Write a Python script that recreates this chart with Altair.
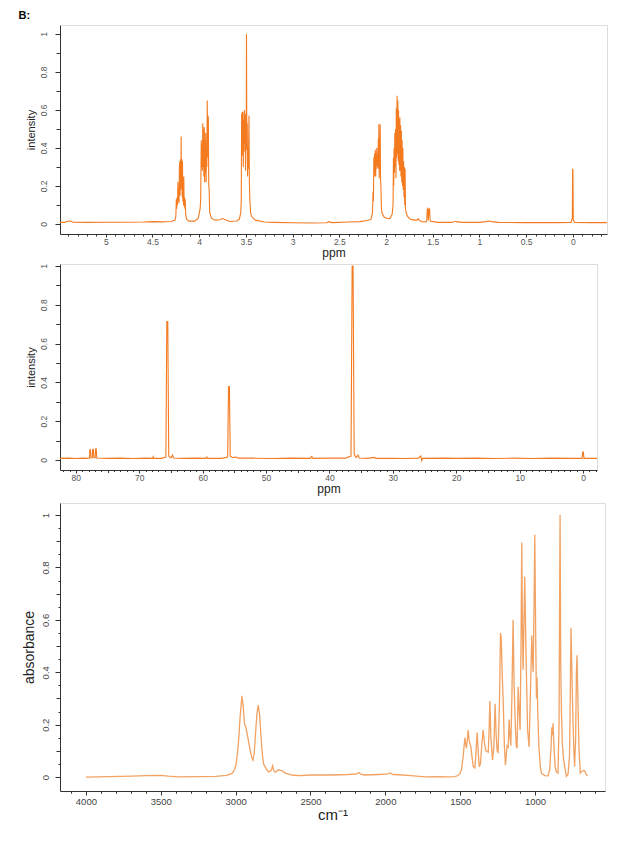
import altair as alt
import pandas as pd

# ---------------- 1H NMR (ppm, intensity) ----------------
h_ppm = [5.50, 5.44, 5.41, 5.38, 5.35, 5.20, 5.00, 4.80, 4.60, 4.50, 4.40, 4.30, 4.26,
         4.250, 4.245, 4.240, 4.236, 4.232, 4.228, 4.224, 4.220, 4.216, 4.212, 4.208, 4.204, 4.200,
         4.196, 4.193, 4.190, 4.186, 4.182, 4.179, 4.175, 4.171, 4.168, 4.165, 4.161, 4.157, 4.153,
         4.150, 4.145, 4.136, 4.11, 4.05,
         4.01, 3.99, 3.984, 3.978, 3.974, 3.970, 3.966, 3.962, 3.958, 3.954, 3.950, 3.946, 3.942,
         3.938, 3.934, 3.930, 3.926, 3.922, 3.918, 3.914, 3.910, 3.906, 3.902, 3.898, 3.894, 3.888,
         3.87, 3.83, 3.78, 3.75, 3.72, 3.67, 3.60, 3.57,
         3.555, 3.550, 3.546, 3.542, 3.539, 3.536, 3.532, 3.528, 3.524, 3.520, 3.516, 3.512, 3.508,
         3.504, 3.500, 3.496, 3.494, 3.490, 3.486, 3.482, 3.478, 3.474, 3.470, 3.467, 3.463, 3.458,
         3.45, 3.44, 3.40, 3.30, 3.20, 3.00, 2.80, 2.64, 2.61, 2.58, 2.40, 2.28, 2.20, 2.16,
         2.145, 2.139, 2.135, 2.131, 2.127, 2.123, 2.119, 2.115, 2.111, 2.107, 2.103, 2.099, 2.095,
         2.091, 2.087, 2.083, 2.079, 2.077, 2.073, 2.069, 2.066, 2.063, 2.059, 2.055, 2.050, 2.045,
         2.02, 1.99, 1.96, 1.935,
         1.925, 1.921, 1.918, 1.914, 1.910, 1.906, 1.902, 1.898, 1.894, 1.890, 1.886, 1.882, 1.878,
         1.874, 1.870, 1.866, 1.862, 1.858, 1.855, 1.852, 1.848, 1.844, 1.840, 1.836, 1.832, 1.828,
         1.824, 1.820, 1.816, 1.812, 1.808, 1.804, 1.800, 1.796, 1.792, 1.785, 1.77, 1.74, 1.70,
         1.67, 1.656, 1.645, 1.60, 1.565, 1.558, 1.552, 1.548, 1.540, 1.534, 1.528, 1.45, 1.30,
         1.25, 1.235, 1.22, 1.20, 1.00, 0.93, 0.90, 0.87, 0.80, 0.50, 0.20, 0.02, 0.006, 0.003,
         0.0, -0.004, -0.02, -0.20, -0.37]
h_int = [0.008, 0.008, 0.014, 0.015, 0.009, 0.008, 0.009, 0.009, 0.010, 0.012, 0.011, 0.013, 0.02,
         0.04, 0.13, 0.08, 0.14, 0.10, 0.22, 0.12, 0.19, 0.11, 0.30, 0.33, 0.15, 0.34,
         0.18, 0.46, 0.20, 0.34, 0.14, 0.33, 0.12, 0.22, 0.10, 0.25, 0.09, 0.14, 0.08,
         0.13, 0.05, 0.025, 0.015, 0.015,
         0.03, 0.08, 0.13, 0.44, 0.30, 0.42, 0.28, 0.53, 0.30, 0.50, 0.25, 0.51, 0.22,
         0.44, 0.27, 0.48, 0.22, 0.40, 0.30, 0.65, 0.35, 0.57, 0.55, 0.20, 0.19, 0.06,
         0.03, 0.02, 0.022, 0.028, 0.022, 0.013, 0.015, 0.025,
         0.06, 0.12, 0.58, 0.40, 0.59, 0.36, 0.59, 0.30, 0.55, 0.38, 0.60, 0.42, 0.58,
         0.28, 0.50, 0.45, 1.00, 0.39, 0.53, 0.25, 0.40, 0.29, 0.45, 0.57, 0.22, 0.13,
         0.06, 0.04, 0.02, 0.01, 0.008, 0.006, 0.005, 0.006, 0.012, 0.007, 0.01, 0.012, 0.018, 0.025,
         0.06, 0.17, 0.12, 0.35, 0.27, 0.37, 0.25, 0.39, 0.25, 0.37, 0.31, 0.40, 0.29,
         0.36, 0.30, 0.45, 0.29, 0.525, 0.24, 0.45, 0.30, 0.525, 0.24, 0.20, 0.09, 0.06,
         0.035, 0.03, 0.028, 0.05,
         0.10, 0.35, 0.20, 0.40, 0.27, 0.48, 0.30, 0.50, 0.24, 0.61, 0.35, 0.675, 0.37,
         0.65, 0.33, 0.60, 0.31, 0.55, 0.28, 0.56, 0.28, 0.52, 0.25, 0.49, 0.22, 0.44,
         0.20, 0.40, 0.18, 0.33, 0.14, 0.30, 0.10, 0.29, 0.08, 0.06, 0.04, 0.025, 0.02,
         0.02, 0.028, 0.018, 0.01, 0.012, 0.08, 0.075, 0.02, 0.08, 0.078, 0.015, 0.008, 0.008,
         0.014, 0.008, 0.013, 0.008, 0.008, 0.012, 0.015, 0.012, 0.008, 0.007, 0.007, 0.008, 0.03, 0.288,
         0.288, 0.02, 0.008, 0.007, 0.007]

# ---------------- 13C NMR (ppm, intensity) ----------------
c_ppm = [82.5, 81, 80, 79, 78.2, 77.85, 77.8, 77.7, 77.6, 77.4, 77.35, 77.25, 77.15, 76.95, 76.88,
         76.78, 76.7, 75, 73, 71, 69, 67.9, 67.8, 67.7, 66.5, 65.8, 65.65, 65.5, 65.35, 65.0, 64.75,
         64.6, 63, 61, 59.5, 59.35, 59.2, 57, 56.05, 55.92, 55.78, 55.65, 55.3, 54.7, 54.4, 52, 49,
         46, 43.0, 42.8, 42.6, 40, 37.5, 36.6, 36.42, 36.28, 36.1, 35.8, 35.5, 35.3, 34, 32.9, 32.7,
         30, 28, 26, 25.6, 25.45, 25.3, 22, 20, 17, 14, 11, 8, 5, 2, 0.15, 0.05, -0.05, -0.15, -2.2]
c_int = [0.008, 0.009, 0.007, 0.009, 0.008, 0.01, 0.052, 0.052, 0.01, 0.012, 0.055, 0.055, 0.012, 0.012, 0.057,
         0.057, 0.01, 0.008, 0.009, 0.007, 0.009, 0.008, 0.017, 0.008, 0.008, 0.015, 0.713, 0.713, 0.02, 0.01, 0.025,
         0.01, 0.008, 0.009, 0.008, 0.015, 0.008, 0.008, 0.015, 0.378, 0.378, 0.02, 0.012, 0.015, 0.009, 0.009, 0.007,
         0.009, 0.008, 0.018, 0.008, 0.009, 0.009, 0.02, 1.0, 1.0, 0.03, 0.012, 0.025, 0.01, 0.008, 0.013, 0.008,
         0.008, 0.007, 0.009, 0.02, -0.004, 0.008, 0.009, 0.008, 0.009, 0.007, 0.009, 0.007, 0.009, 0.008, 0.008, 0.04, 0.04, 0.008, 0.008]

# ---------------- IR (wavenumber, absorbance) ----------------
ir_wn = [4000, 3850, 3690, 3600, 3500, 3450, 3380, 3250, 3135, 3060, 3024, 3010, 2998, 2988, 2980, 2970,
         2958, 2948, 2940, 2931, 2918, 2902, 2892, 2884, 2876, 2869, 2858, 2849, 2840, 2831, 2822, 2813,
         2795, 2780, 2762, 2753, 2745, 2735, 2722, 2713, 2700, 2691, 2680, 2669, 2624, 2580, 2490, 2358,
         2250, 2190, 2176, 2160, 2136, 2050, 1990, 1969, 1950, 1913, 1830, 1735, 1650, 1580, 1536, 1515,
         1502, 1491, 1480, 1469, 1462, 1458, 1447, 1441, 1436, 1430, 1424, 1413, 1402, 1395, 1387, 1380,
         1373, 1365, 1355, 1347, 1338, 1329, 1313, 1307, 1302, 1295, 1284, 1275, 1267, 1260, 1253, 1247,
         1238, 1231, 1226, 1220, 1213, 1205, 1198, 1190, 1187, 1180, 1173, 1167, 1162, 1155, 1147, 1140,
         1132, 1126, 1120, 1113, 1106, 1100, 1094, 1089, 1084, 1080, 1074, 1069, 1063, 1058, 1050, 1040,
         1032, 1022, 1017, 1013, 1007, 1002, 996, 991, 987, 982, 975, 965, 958, 935, 913, 902, 893, 888,
         884, 880, 875, 866, 858, 847, 840, 835, 833, 830, 829, 824, 818, 810, 802, 791, 780, 770, 765,
         760, 754, 747, 741, 736, 729, 724, 720, 714, 707, 698, 690, 680, 669, 660, 651]
ir_abs = [0.0, 0.002, 0.004, 0.006, 0.007, 0.004, 0.001, 0.002, 0.003, 0.007, 0.014, 0.025, 0.045, 0.09, 0.14, 0.23,
          0.31, 0.26, 0.20, 0.19, 0.15, 0.10, 0.075, 0.065, 0.09, 0.15, 0.24, 0.275, 0.24, 0.16, 0.09, 0.05,
          0.03, 0.02, 0.025, 0.043, 0.025, 0.018, 0.025, 0.028, 0.025, 0.025, 0.02, 0.015, 0.008, 0.006, 0.008, 0.008,
          0.01, 0.012, 0.017, 0.01, 0.008, 0.01, 0.011, 0.016, 0.01, 0.009, 0.006, 0.001, 0.002, 0.001, 0.002, 0.006,
          0.013, 0.03, 0.08, 0.15, 0.12, 0.11, 0.18, 0.14, 0.13, 0.12, 0.09, 0.04, 0.035, 0.09, 0.17, 0.10,
          0.04, 0.05, 0.13, 0.18, 0.13, 0.10, 0.095, 0.18, 0.29, 0.15, 0.065, 0.12, 0.28, 0.16, 0.10, 0.095,
          0.28, 0.55, 0.53, 0.40, 0.29, 0.12, 0.045, 0.10, 0.12, 0.115, 0.22, 0.15, 0.12, 0.30, 0.60, 0.35,
          0.20, 0.12, 0.11, 0.345, 0.25, 0.18, 0.50, 0.895, 0.55, 0.41, 0.60, 0.765, 0.55, 0.40, 0.18, 0.115,
          0.30, 0.54, 0.45, 0.40, 0.65, 0.925, 0.55, 0.30, 0.38, 0.25, 0.12, 0.04, 0.015, 0.006, 0.005, 0.03, 0.12, 0.19,
          0.16, 0.205, 0.13, 0.04, 0.02, 0.015, 0.2, 0.8, 1.0, 0.6, 0.45, 0.25, 0.13, 0.07, 0.04, 0.003, 0.01, 0.08, 0.3,
          0.57, 0.40, 0.22, 0.10, 0.04, 0.15, 0.40, 0.465, 0.30, 0.11, 0.015, 0.02, 0.025, 0.025, 0.012, 0.004]

# ---------------- tick values ----------------
h_x_major = [5, 4.5, 4, 3.5, 3, 2.5, 2, 1.5, 1, 0.5, 0]
h_x_minor = [round(-0.3 + 0.1 * i, 1) for i in range(58)]
c_x_major = [80, 70, 60, 50, 40, 30, 20, 10, 0]
c_x_mid = [75, 65, 55, 45, 35, 25, 15, 5]
c_x_minor = list(range(-2, 83))
ir_x_major = [4000, 3500, 3000, 2500, 2000, 1500, 1000]
ir_x_minor = list(range(600, 4200, 100))
y_major = [0, 0.2, 0.4, 0.6, 0.8, 1]
y_minor = [round(0.1 * i, 1) for i in range(11)]
y_minor_ir = [round(0.05 * i, 2) for i in range(21)]

FONT = "Liberation Sans"
NMR_COLOR = "#f47a20"
IR_COLOR = "#f2a262"


def panel(xs, ys, xdom, ydom, w, h, color, sw, xtitle, ytitle,
          x_groups, y_groups, lab_size, ytitle_size, xtitle_size, lab_color,
          ylab_pad, ytitle_pad, xlab_pad, xtitle_pad):
    df = pd.DataFrame({"x": xs, "y": ys, "i": list(range(len(xs)))})
    n = max(len(x_groups), len(y_groups))
    layers = []
    for k in range(n):
        xg = x_groups[k] if k < len(x_groups) else x_groups[-1]
        yg = y_groups[k] if k < len(y_groups) else y_groups[-1]
        major = k == 0
        xaxis = alt.Axis(
            orient="bottom", values=xg[0], tickSize=xg[1], labels=major,
            domain=major, grid=False, labelExpr="datum.value + ''",
            title=xtitle if major else None,
            tickColor="#333", domainColor="#333", tickWidth=1,
            labelColor=lab_color, labelFont=FONT, labelFontSize=lab_size,
            labelPadding=xlab_pad, labelFlush=False, labelOverlap=False,
            titleFont=FONT, titleFontSize=xtitle_size, titleFontWeight="normal",
            titleColor="#222", titlePadding=xtitle_pad,
        )
        yaxis = alt.Axis(
            orient="left", values=yg[0], tickSize=yg[1], labels=major,
            domain=major, grid=False, labelExpr="datum.value + ''",
            title=ytitle if major else None,
            tickColor="#333", domainColor="#333", tickWidth=1,
            labelColor=lab_color, labelFont=FONT, labelFontSize=lab_size,
            labelAngle=270, labelAlign="center", labelBaseline="bottom",
            labelPadding=ylab_pad, labelFlush=False, labelOverlap=False,
            titleFont=FONT, titleFontSize=ytitle_size, titleFontWeight="normal",
            titleColor="#222", titlePadding=ytitle_pad,
        )
        layer = alt.Chart(df).mark_line(
            color=color, strokeWidth=sw, opacity=1 if major else 0, clip=True
        ).encode(
            x=alt.X("x:Q", scale=alt.Scale(domain=xdom, reverse=True, nice=False, zero=False), axis=xaxis),
            y=alt.Y("y:Q", scale=alt.Scale(domain=ydom, nice=False, zero=False), axis=yaxis),
            order="i:Q",
        )
        layers.append(layer)
    return alt.layer(*layers).resolve_axis(x="independent", y="independent").properties(width=w, height=h)


p1 = panel(h_ppm, h_int, [-0.365, 5.49], [-0.053, 1.047], 547, 209, NMR_COLOR, 1.1,
           "ppm", "intensity",
           [(h_x_major, 3), (h_x_minor, 2)], [(y_major, 5), (y_minor, 4)],
           8.5, 11, 12, "#555", 7, 3, 0, 2)
p2 = panel(c_ppm, c_int, [-2.2, 82.5], [-0.052, 1.01], 537, 206, NMR_COLOR, 1.1,
           "ppm", "intensity",
           [(c_x_major, 3), (c_x_mid, 2.5), (c_x_minor, 1.5)], [(y_major, 5), (y_minor, 4)],
           8.5, 11, 12, "#555", 7, 3, 0, 2)
p3 = panel(ir_wn, ir_abs, [533, 4173], [-0.053, 1.046], 545, 288, IR_COLOR, 1.3,
           "cm⁻¹", "absorbance",
           [(ir_x_major, 4), (ir_x_minor, 2)], [(y_major, 5), (y_minor, 4), (y_minor_ir, 2)],
           9.5, 14, 15, "#444", 5, 4, 1, 2).properties(
    title=alt.TitleParams(" ", fontSize=3, offset=0)
)

chart = alt.vconcat(p1, p2, p3, spacing=4).properties(
    title=alt.TitleParams("B:", anchor="start", fontSize=11, fontWeight="bold",
                          font=FONT, color="#000", offset=4, dx=-3),
    padding={"left": 18, "top": 9, "right": 5, "bottom": 5},
).configure_view(stroke="#e4e4e4").configure(background="white")

chart.save("out.html", embed_options={"renderer": "svg", "actions": False})
